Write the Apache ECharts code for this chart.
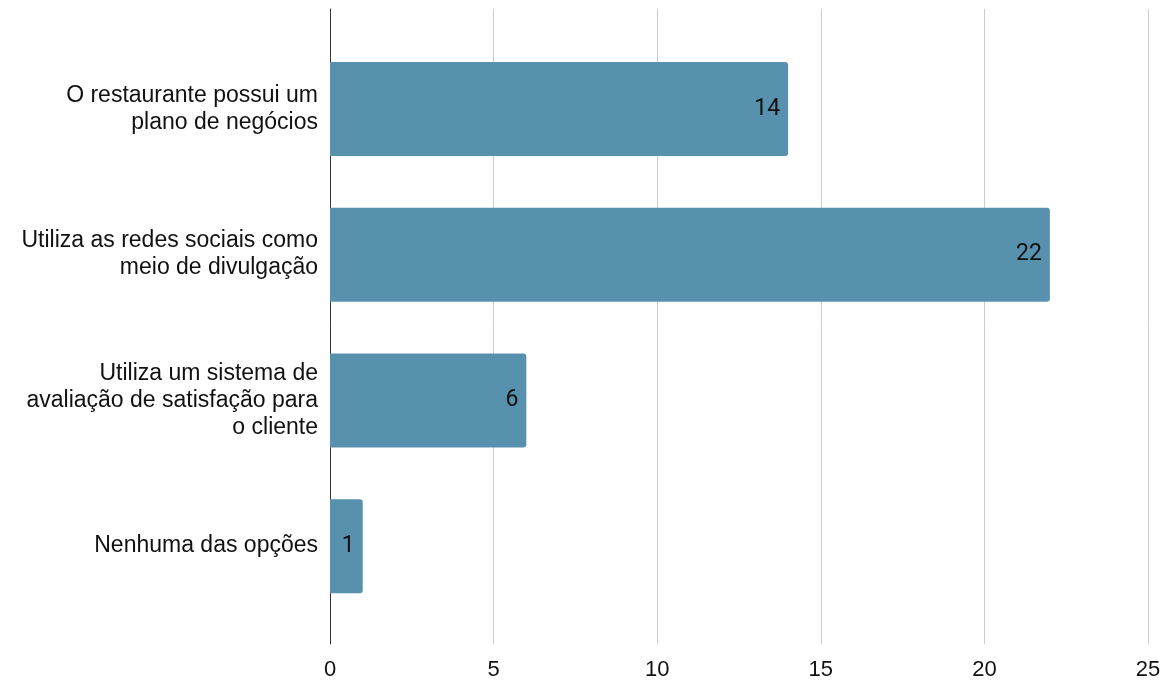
<!DOCTYPE html>
<html>
<head>
<meta charset="utf-8">
<script src="https://cdn.jsdelivr.net/npm/echarts@6/dist/echarts.min.js"></script>
<style>
html,body{margin:0;padding:0;background:#fff;}
#chart{width:1167px;height:682px;}
</style>
</head>
<body>
<div id="chart"></div>
<script>
const categories = [
  "O restaurante possui um\nplano de negócios",
  "Utiliza as redes sociais como\nmeio de divulgação",
  "Utiliza um sistema de\navaliação de satisfação para\no cliente",
  "Nenhuma das opções"
];
const values = [14, 22, 6, 1];
const xMin = 0, xMax = 25, xInterval = 5;

const chart = echarts.init(document.getElementById('chart'), null, {renderer: 'canvas'});
const labelFont = '"Liberation Sans", Arial, sans-serif';
chart.setOption({
  animation: false,
  backgroundColor: '#ffffff',
  grid: [
    {left: 330, right: 19, top: 9, bottom: 38},
    {left: 330, right: 19, top: 36, bottom: 63}
  ],
  xAxis: [
    {
      gridIndex: 0, type: 'value', min: xMin, max: xMax, interval: xInterval,
      axisLine: {show: false}, axisTick: {show: false},
      splitLine: {show: true, lineStyle: {color: '#cccccc', width: 1}},
      axisLabel: {color: '#111', fontSize: 22, fontFamily: labelFont, margin: 15}
    },
    {
      gridIndex: 1, type: 'value', min: xMin, max: xMax, interval: xInterval,
      show: false, splitLine: {show: false}
    }
  ],
  yAxis: [
    {
      gridIndex: 0, type: 'category', data: categories, inverse: true,
      axisLine: {show: true, onZero: false, lineStyle: {color: '#333', width: 1}},
      axisTick: {show: false}, axisLabel: {show: false}, splitLine: {show: false}
    },
    {
      gridIndex: 1, type: 'category', data: categories, inverse: true,
      axisLine: {show: false}, axisTick: {show: false},
      axisLabel: {color: '#111', fontSize: 23, fontFamily: labelFont, lineHeight: 27, margin: 12, align: 'right'}
    }
  ],
  series: [{
    type: 'bar',
    xAxisIndex: 1, yAxisIndex: 1,
    data: values,
    barWidth: 94,
    itemStyle: {color: '#5891ae', borderRadius: [0, 3, 3, 0]},
    label: {
      show: true, position: 'insideRight', distance: 8,
      color: '#111', fontSize: 23, fontFamily: 'Roboto, sans-serif'
    }
  }]
});
</script>
</body>
</html>
